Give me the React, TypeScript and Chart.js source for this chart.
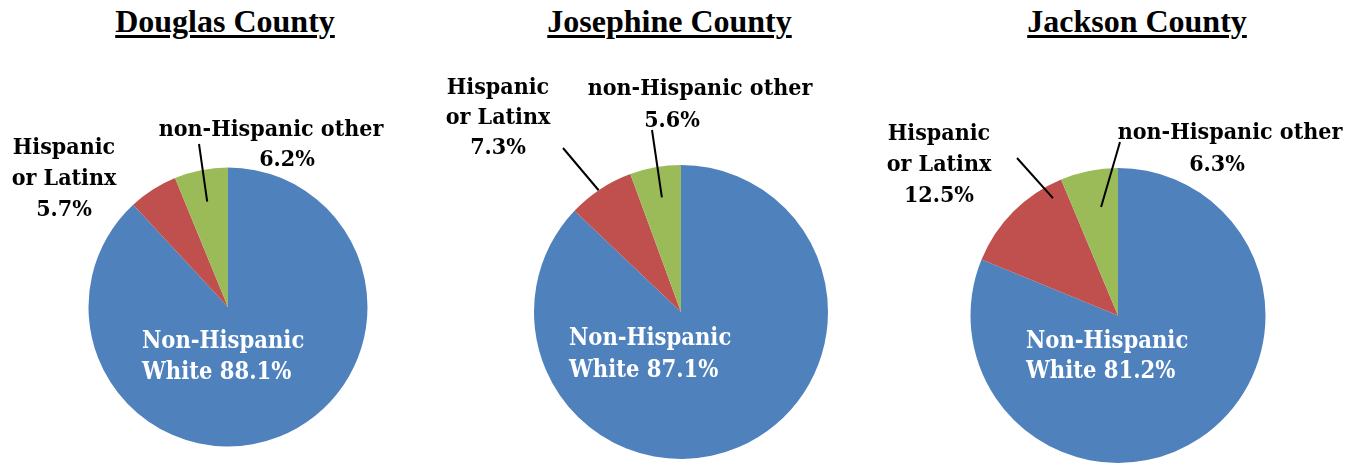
import React, { useEffect, useRef } from "react";
import { Chart, registerables } from "chart.js";

Chart.register(...registerables);

// ---------- data ----------
const counties = ["Douglas County", "Josephine County", "Jackson County"];
const categories = ["Non-Hispanic White", "Hispanic or Latinx", "non-Hispanic other"];
const douglasValues = [88.1, 5.7, 6.2];
const josephineValues = [87.1, 7.3, 5.6];
const jacksonValues = [81.2, 12.5, 6.3];
const sliceColors = ["#4F81BD", "#C0504D", "#9BBB59"];

// ---------- layout (positions / styles only) ----------
const W = 1357;
const H = 463;
const LABEL_FONT = "bold 23px 'DejaVu Serif Condensed', 'DejaVu Serif'";
const WHITE_FONT = "bold 23.5px 'DejaVu Serif Condensed', 'DejaVu Serif'";

type Line = { x: number; y: number; align: CanvasTextAlign };
type Leader = { slice: number; frac: number; rf: number; x: number; y: number };
type PieLayout = {
  cx: number; cy: number; r: number; titleX: number;
  white: Line[]; hisp: Line[]; other: Line[]; leaders: Leader[];
};

const layouts: PieLayout[] = [
  {
    cx: 228, cy: 307, r: 139.5, titleX: 225,
    white: [{ x: 142, y: 348, align: "left" }, { x: 142, y: 379, align: "left" }],
    hisp: [{ x: 64, y: 154, align: "center" }, { x: 64, y: 185, align: "center" }, { x: 64, y: 216, align: "center" }],
    other: [{ x: 271, y: 136, align: "center" }, { x: 287, y: 166, align: "center" }],
    leaders: [{ slice: 2, frac: 0.5, rf: 0.77, x: 199, y: 144 }],
  },
  {
    cx: 681, cy: 312, r: 147, titleX: 669.5,
    white: [{ x: 569, y: 345, align: "left" }, { x: 569, y: 377, align: "left" }],
    hisp: [{ x: 498, y: 94, align: "center" }, { x: 498, y: 124, align: "center" }, { x: 498, y: 154, align: "center" }],
    other: [{ x: 700, y: 95, align: "center" }, { x: 672, y: 127, align: "center" }],
    leaders: [
      { slice: 1, frac: 0.47, rf: 1.0, x: 563, y: 148 },
      { slice: 2, frac: 0.53, rf: 0.79, x: 652, y: 130 },
    ],
  },
  {
    cx: 1118, cy: 317, r: 149, titleX: 1137,
    white: [{ x: 1026, y: 348, align: "left" }, { x: 1026, y: 378, align: "left" }],
    hisp: [{ x: 939, y: 140, align: "center" }, { x: 939, y: 171, align: "center" }, { x: 939, y: 202, align: "center" }],
    other: [{ x: 1230, y: 139, align: "center" }, { x: 1217, y: 171, align: "center" }],
    leaders: [
      { slice: 1, frac: 0.86, rf: 0.91, x: 1017, y: 158 },
      { slice: 2, frac: 0.61, rf: 0.745, x: 1120, y: 142 },
    ],
  },
];

const seriesList = [douglasValues, josephineValues, jacksonValues];

function pct(v: number) {
  return v.toFixed(1) + "%";
}

function labelPlugin(values: number[], lay: PieLayout) {
  return {
    id: "pieLabels",
    afterDraw(chart: any) {
      const ctx: CanvasRenderingContext2D = chart.ctx;
      const arcs = chart.getDatasetMeta(0).data;
      ctx.save();
      // leader lines
      ctx.strokeStyle = "#000";
      ctx.lineWidth = 2;
      lay.leaders.forEach((ld) => {
        const arc = arcs[ld.slice];
        const p = arc.getProps(["x", "y", "startAngle", "endAngle", "outerRadius"], true);
        const a = p.startAngle + ld.frac * (p.endAngle - p.startAngle);
        const ix = p.x + Math.cos(a) * p.outerRadius * ld.rf;
        const iy = p.y + Math.sin(a) * p.outerRadius * ld.rf;
        ctx.beginPath();
        ctx.moveTo(ld.x, ld.y);
        ctx.lineTo(ix, iy);
        ctx.stroke();
      });
      ctx.textBaseline = "alphabetic";
      // white label
      const whiteText = ["Non-Hispanic", "White " + pct(values[0])];
      ctx.font = WHITE_FONT;
      ctx.fillStyle = "#FFFFFF";
      whiteText.forEach((t, i) => {
        const l = lay.white[i];
        ctx.textAlign = l.align;
        ctx.fillText(t, l.x, l.y);
      });
      ctx.font = LABEL_FONT;
      ctx.fillStyle = "#000000";
      const hispText = ["Hispanic", "or Latinx", pct(values[1])];
      hispText.forEach((t, i) => {
        const l = lay.hisp[i];
        ctx.textAlign = l.align;
        ctx.fillText(t, l.x, l.y);
      });
      const otherText = [categories[2], pct(values[2])];
      otherText.forEach((t, i) => {
        const l = lay.other[i];
        ctx.textAlign = l.align;
        ctx.fillText(t, l.x, l.y);
      });
      ctx.restore();
    },
  };
}

function PieCanvas({ values, lay }: { values: number[]; lay: PieLayout }) {
  const ref = useRef<HTMLCanvasElement | null>(null);
  useEffect(() => {
    if (!ref.current) return;
    const chart = new Chart(ref.current, {
      type: "pie",
      data: {
        labels: categories,
        datasets: [
          {
            data: values,
            backgroundColor: sliceColors,
            borderWidth: 0,
            hoverOffset: 0,
          },
        ],
      },
      options: {
        animation: false,
        responsive: false,
        devicePixelRatio: 1,
        events: [],
        layout: {
          padding: {
            left: lay.cx - lay.r,
            right: W - lay.cx - lay.r,
            top: lay.cy - lay.r,
            bottom: H - lay.cy - lay.r,
          },
        },
        plugins: {
          legend: { display: false },
          tooltip: { enabled: false },
          title: { display: false },
        },
      },
      plugins: [labelPlugin(values, lay)],
    } as any);
    return () => chart.destroy();
  }, [values, lay]);
  return (
    <canvas
      ref={ref}
      width={W}
      height={H}
      style={{ position: "absolute", left: 0, top: 0, width: W, height: H }}
    />
  );
}

export default function App() {
  return (
    <div
      style={{
        position: "absolute",
        left: 0,
        top: 0,
        width: W,
        height: H,
        overflow: "hidden",
        background: "#FFFFFF",
      }}
    >
      {counties.map((name, i) => (
        <div
          key={"t" + i}
          style={{
            position: "absolute",
            left: layouts[i].titleX - 200,
            width: 400,
            top: 3,
            textAlign: "center",
            fontFamily: "'Liberation Serif', 'Times New Roman', serif",
            fontWeight: "bold",
            fontSize: 32,
            textDecoration: "underline",
            textDecorationThickness: "3px",
            textUnderlineOffset: "3px",
            color: "#000",
            whiteSpace: "nowrap",
          }}
        >
          {name}
        </div>
      ))}
      {seriesList.map((vals, i) => (
        <PieCanvas key={"p" + i} values={vals} lay={layouts[i]} />
      ))}
    </div>
  );
}
